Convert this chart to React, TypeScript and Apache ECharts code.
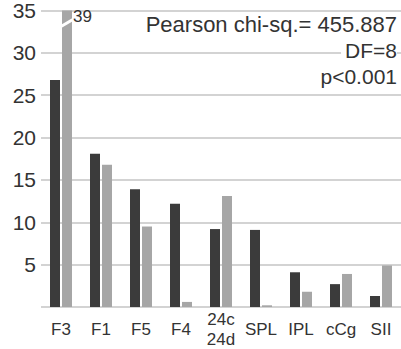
import React, { useEffect, useRef } from "react";
import * as echarts from "echarts";

const categories = ["F3", "F1", "F5", "F4", "24c\n24d", "SPL", "IPL", "cCg", "SII"];
const seriesA = [26.8, 18.1, 13.9, 12.2, 9.2, 9.1, 4.1, 2.7, 1.3];
const seriesB = [39, 16.8, 9.5, 0.6, 13.1, 0.2, 1.8, 3.9, 4.9];
const yTicks = { min: 0, max: 35, interval: 5 };
const statLines = ["Pearson chi-sq.= 455.887", "DF=8", "p<0.001"];
const breakLabel = "39";

const FONT = "'Liberation Sans', Arial, sans-serif";
const TEXT = "#333333";

export default function App() {
  const ref = useRef<HTMLDivElement>(null);
  useEffect(() => {
    if (!ref.current) return;
    const chart = echarts.init(ref.current, null, { renderer: "svg" });
    chart.setOption({
      animation: false,
      textStyle: { fontFamily: FONT },
      grid: { left: 41, right: 0, top: 7, bottom: 40, containLabel: false },
      xAxis: {
        type: "category",
        data: categories,
        axisLine: { show: false },
        axisTick: { show: false },
        axisLabel: {
          color: TEXT,
          fontSize: 17,
          fontFamily: FONT,
          margin: 22,
          verticalAlign: "middle",
          lineHeight: 20,
          interval: 0,
        },
      },
      yAxis: {
        type: "value",
        min: yTicks.min,
        max: yTicks.max,
        interval: yTicks.interval,
        axisLine: { show: false },
        axisTick: { show: false },
        splitLine: { lineStyle: { color: "#d3d3d3", width: 2 } },
        axisLabel: {
          color: TEXT,
          fontSize: 21,
          fontFamily: FONT,
          margin: 5,
          formatter: (v: number) => (v === 0 ? "" : String(v)),
        },
      },
      series: [
        {
          type: "bar",
          data: seriesA,
          barWidth: 10,
          barGap: "20%",
          clip: true,
          itemStyle: { color: "#3b3b3b" },
        },
        {
          type: "bar",
          data: seriesB,
          barWidth: 10,
          clip: true,
          itemStyle: { color: "#a6a6a6" },
        },
      ],
    });

    const top = chart.convertToPixel({ gridIndex: 0 }, [0, yTicks.max]) as number[];
    const brk = chart.convertToPixel({ gridIndex: 0 }, [0, 33.5]) as number[];
    const barCx = top[0] + 6;
    const rightX = chart.getWidth() - 4;
    chart.setOption({
      graphic: [
        {
          type: "line",
          shape: { x1: barCx - 9, y1: brk[1] + 5, x2: barCx + 8, y2: brk[1] - 5 },
          style: { stroke: "#ffffff", lineWidth: 3 },
          z: 100,
        },
        {
          type: "text",
          x: barCx + 6,
          y: top[1] + 6,
          style: {
            text: breakLabel,
            fill: TEXT,
            font: `17px ${FONT}`,
            align: "left",
            verticalAlign: "middle",
          },
          z: 100,
        },
        ...statLines.map((t, i) => ({
          type: "text",
          x: rightX,
          y: 24 + i * 26,
          style: {
            text: t,
            fill: TEXT,
            font: `${i === 0 ? 22 : 21}px ${FONT}`,
            align: "right",
            verticalAlign: "middle",
            backgroundColor: "#ffffff",
            padding: [0, 0, 0, 4],
          },
          z: 100,
        })),
      ],
    });
    return () => chart.dispose();
  }, []);
  return (
    <div
      ref={ref}
      style={{ position: "absolute", left: 0, top: 0, width: 401, height: 349 }}
    />
  );
}
